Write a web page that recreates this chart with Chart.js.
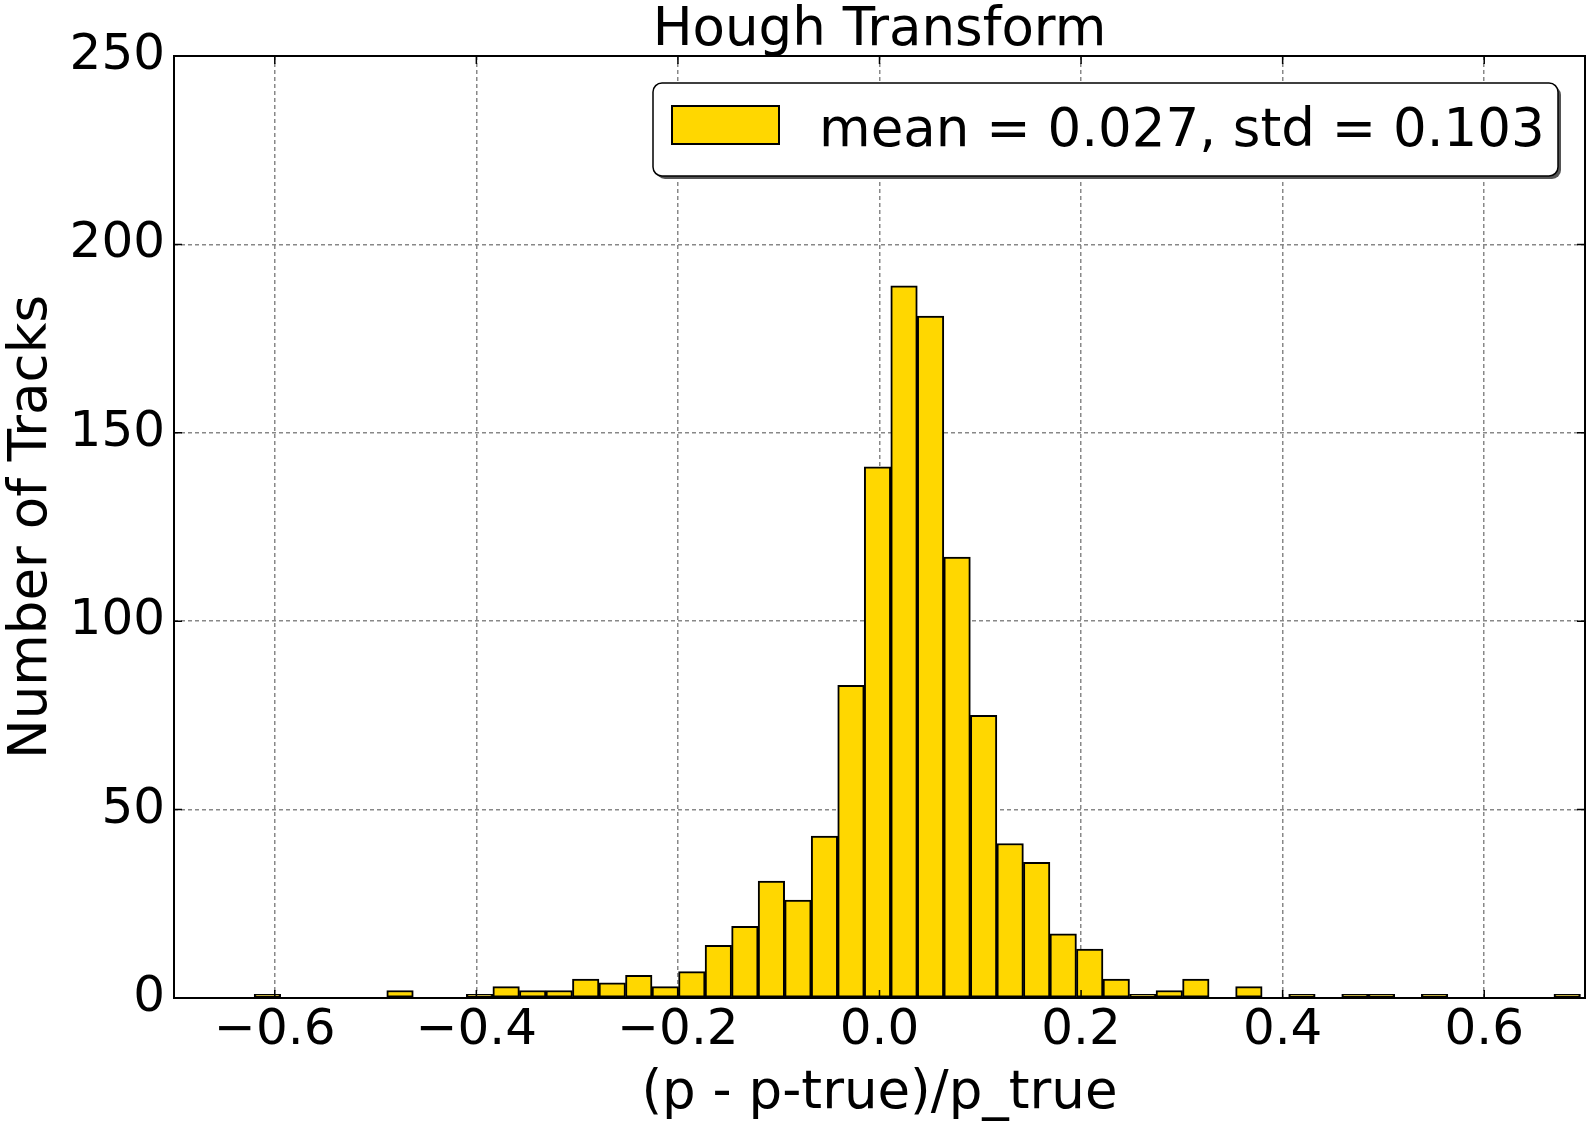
<!DOCTYPE html>
<html>
<head>
<meta charset="utf-8">
<script src="https://cdn.jsdelivr.net/npm/chart.js@4/dist/chart.umd.min.js"></script>
<style>
  html, body { margin: 0; padding: 0; background: #fff; }
</style>
</head>
<body>
<canvas id="histChart" width="1593" height="1122"></canvas>
<script>
// histogram: 50 bins between binMin and binMax
const binMin = -0.6205;
const binMax = 0.6955;
const counts = [
  1, 0, 0, 0, 0, 2, 0, 0, 1, 3,
  2, 2, 5, 4, 6, 3, 7, 14, 19, 31,
  26, 43, 83, 141, 189, 181, 117, 75, 41, 36,
  17, 13, 5, 1, 2, 5, 0, 3, 0, 1,
  0, 1, 1, 0, 1, 0, 0, 0, 0, 1
];
const xTicks = [-0.6, -0.4, -0.2, 0.0, 0.2, 0.4, 0.6];
const yTicks = [0, 50, 100, 150, 200, 250];
const legendLabel = "mean = 0.027, std = 0.103";

const binWidth = (binMax - binMin) / counts.length;
const points = counts.map((c, i) => ({ x: binMin + (i + 0.5) * binWidth, y: c }));

const FONT = "DejaVu Sans";
Chart.defaults.font.family = FONT;
Chart.defaults.color = "#000";

// frame, inward ticks and legend box
const framePlugin = {
  id: "frame",
  afterDatasetsDraw(chart) {
    const { ctx, chartArea: a, scales } = chart;
    ctx.save();
    ctx.strokeStyle = "#000";
    ctx.lineWidth = 1.5;
    ctx.beginPath();
    xTicks.forEach((v) => {
      const px = scales.x.getPixelForValue(v);
      ctx.moveTo(px, a.bottom); ctx.lineTo(px, a.bottom - 8);
      ctx.moveTo(px, a.top); ctx.lineTo(px, a.top + 8);
    });
    yTicks.forEach((v) => {
      const py = scales.y.getPixelForValue(v);
      ctx.moveTo(a.left, py); ctx.lineTo(a.left + 8, py);
      ctx.moveTo(a.right, py); ctx.lineTo(a.right - 8, py);
    });
    ctx.stroke();
    ctx.lineWidth = 2;
    ctx.strokeRect(a.left, a.top, a.right - a.left, a.bottom - a.top);
    ctx.restore();
  },
  afterDraw(chart) {
    const { ctx, chartArea: a } = chart;
    const w = 905, h = 93;
    const x = a.right - 27 - w, y = a.top + 27;
    ctx.save();
    ctx.fillStyle = "#555";
    ctx.beginPath();
    ctx.roundRect(x + 3, y + 3, w, h, 9);
    ctx.fill();
    ctx.fillStyle = "#fff";
    ctx.strokeStyle = "#000";
    ctx.lineWidth = 1.5;
    ctx.beginPath();
    ctx.roundRect(x, y, w, h, 9);
    ctx.fill();
    ctx.stroke();
    ctx.fillStyle = "#FFD700";
    ctx.lineWidth = 2;
    ctx.fillRect(x + 19, y + 23, 107, 38);
    ctx.strokeRect(x + 19, y + 23, 107, 38);
    ctx.fillStyle = "#000";
    ctx.font = "53px '" + FONT + "'";
    ctx.textBaseline = "middle";
    ctx.textAlign = "left";
    ctx.fillText(chart.data.datasets[0].label, x + 166, y + 49);
    ctx.restore();
  }
};

new Chart(document.getElementById("histChart"), {
  type: "bar",
  data: {
    datasets: [{
      label: legendLabel,
      data: points,
      backgroundColor: "#FFD700",
      borderColor: "#000",
      borderWidth: 2,
      borderSkipped: false,
      barPercentage: 1,
      categoryPercentage: 1
    }]
  },
  options: {
    responsive: false,
    animation: false,
    layout: { padding: { left: 0, right: 8, top: 0, bottom: 0 } },
    plugins: {
      legend: { display: false },
      tooltip: { enabled: false },
      title: {
        display: true,
        text: "Hough Transform",
        fullSize: false,
        color: "#000",
        font: { size: 53, weight: "normal", lineHeight: 1 },
        padding: { top: 5, bottom: -2 }
      }
    },
    scales: {
      x: {
        type: "linear",
        min: -0.7,
        max: 0.7,
        offset: false,
        afterBuildTicks: (scale) => { scale.ticks = xTicks.map((v) => ({ value: v })); },
        afterFit: (scale) => { scale.height = 124; },
        ticks: {
          font: { size: 50 },
          padding: 3,
          maxRotation: 0,
          callback: (v) => Number(v).toFixed(1).replace("-", "\u2212")
        },
        grid: { color: "#888", lineWidth: 1.5, drawTicks: false, offset: false },
        border: { display: false, dash: [4, 3] },
        title: {
          display: true,
          text: "(p - p-true)/p_true",
          font: { size: 53 },
          padding: { top: 0, bottom: -4 }
        }
      },
      y: {
        min: 0,
        max: 250,
        afterBuildTicks: (scale) => { scale.ticks = yTicks.map((v) => ({ value: v })); },
        afterFit: (scale) => { scale.width = 174; },
        ticks: { font: { size: 50 }, padding: 9 },
        grid: { color: "#888", lineWidth: 1.5, drawTicks: false },
        border: { display: false, dash: [4, 3] },
        title: {
          display: true,
          text: "Number of Tracks",
          font: { size: 53 },
          padding: { top: 0, bottom: 0 }
        }
      }
    }
  },
  plugins: [framePlugin]
});
</script>
</body>
</html>
